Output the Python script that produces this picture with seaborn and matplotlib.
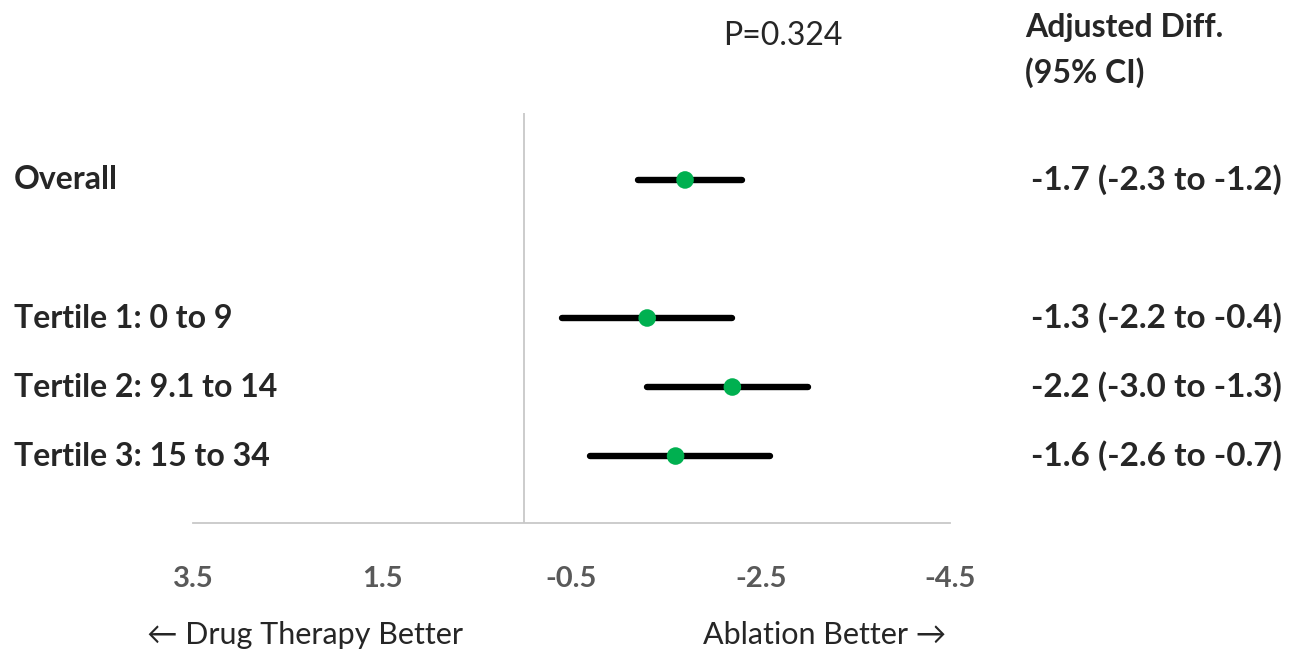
import matplotlib
matplotlib.use("Agg")
import matplotlib.pyplot as plt
import matplotlib.transforms as mtransforms
import seaborn as sns
import pandas as pd

sns.set_theme(style="white")
plt.rcParams['font.family'] = ['Lato', 'DejaVu Sans']

labels = ["Overall", "Tertile 1: 0 to 9", "Tertile 2: 9.1 to 14", "Tertile 3: 15 to 34"]
ypos = [0, 2, 3, 4]
estimate = [-1.7, -1.3, -2.2, -1.6]
lower = [-1.2, -0.4, -1.3, -0.7]
upper = [-2.3, -2.2, -3.0, -2.6]
ci_text = ["-1.7 (-2.3 to -1.2)", "-1.3 (-2.2 to -0.4)", "-2.2 (-3.0 to -1.3)", "-1.6 (-2.6 to -0.7)"]
xticks = [3.5, 1.5, -0.5, -2.5, -4.5]
p_text = "P=0.324"

df = pd.DataFrame({"label": labels, "y": ypos, "est": estimate, "lo": lower, "hi": upper})

W, H = 1289, 653
fig = plt.figure(figsize=(W / 100, H / 100), dpi=100)
ax = fig.add_axes([193 / W, (H - 523) / H, 757 / W, 410 / H])

ax.hlines(df["y"], df["lo"], df["hi"], color="black", lw=4.6, capstyle="round", zorder=2)
sns.scatterplot(data=df, x="est", y="y", color="#00B050", s=160, edgecolor="none", ax=ax, zorder=3)

ax.axvline(0, color="#C8C8C8", lw=1.3, zorder=1)
ax.set_xlim(3.5, -4.5)
ax.set_ylim(4.97, -0.97)
ax.set_xticks(xticks)
ax.set_xticklabels([f"{v:.1f}" for v in xticks], fontsize=21, fontweight="bold", color="#595959")
ax.tick_params(axis="x", length=0, pad=31)
ax.set_yticks([])
ax.set_xlabel("")
ax.set_ylabel("")
for s in ["top", "right", "left"]:
    ax.spines[s].set_visible(False)
ax.spines["bottom"].set_color("#C8C8C8")
ax.spines["bottom"].set_linewidth(1.3)

tr = mtransforms.blended_transform_factory(fig.transFigure, ax.transData)
for lab, y, ct in zip(labels, ypos, ci_text):
    fig.text(14 / W, y, lab, transform=tr, fontsize=23, fontweight="bold", ha="left", va="center")
    fig.text(1282 / W, y, ct, transform=tr, fontsize=24, fontweight="bold", ha="right", va="center")

fig.text(1025 / W, 1 - 28 / H, "Adjusted Diff.", fontsize=23, fontweight="bold", ha="left", va="center")
fig.text(1025 / W, 1 - 73 / H, "(95% CI)", fontsize=23, fontweight="bold", ha="left", va="center")
fig.text(783 / W, 1 - 36 / H, p_text, fontsize=23, ha="center", va="center")
fig.text(147 / W, 1 - 635 / H, "\u2190 Drug Therapy Better", fontsize=22, ha="left", va="center")
fig.text(946 / W, 1 - 635 / H, "Ablation Better \u2192", fontsize=22, ha="right", va="center")

fig.savefig("out.png", dpi=100)
